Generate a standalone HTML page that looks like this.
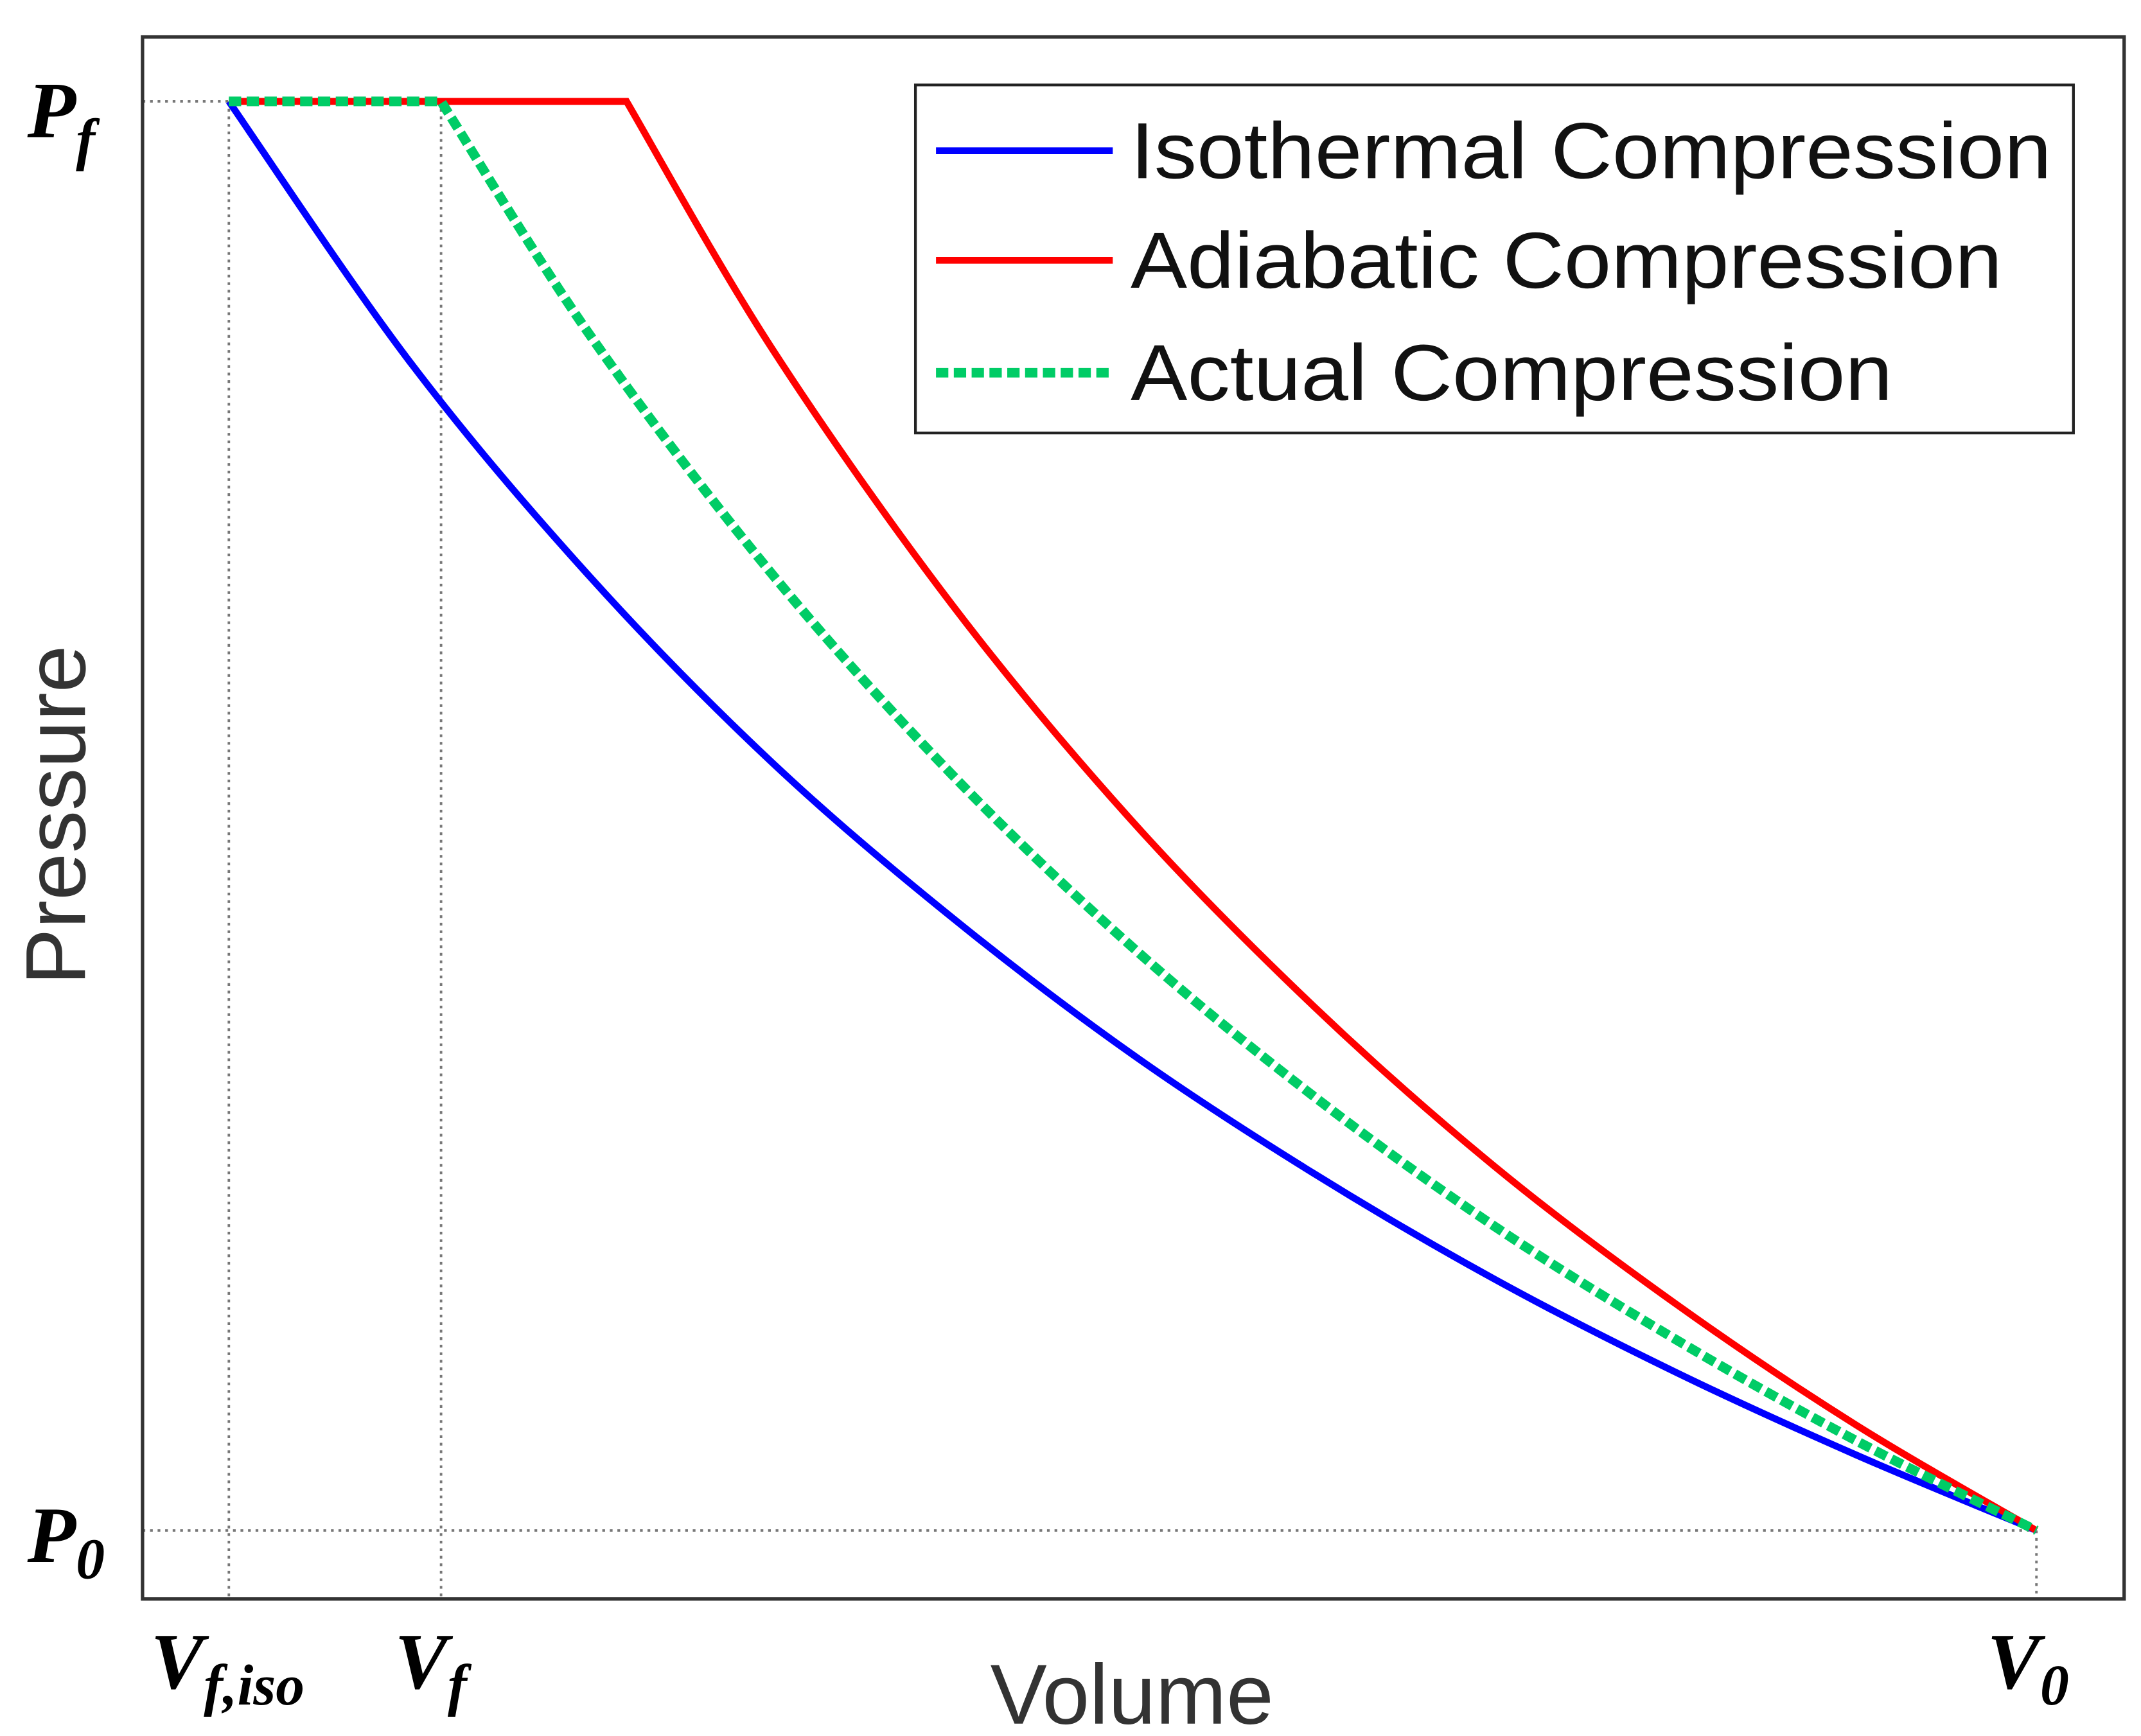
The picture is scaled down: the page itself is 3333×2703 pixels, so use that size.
<!DOCTYPE html>
<html><head><meta charset="utf-8"><style>
html,body{margin:0;padding:0;background:#fff;}
svg{display:block;}
</style></head><body>
<svg id="chart" width="3333" height="2703" viewBox="0 0 1562.3 1267" preserveAspectRatio="none" xmlns="http://www.w3.org/2000/svg">
<rect x="0" y="0" width="1562.3" height="1267" fill="#fff"/>
<g id="guides"></g>
<g id="series"></g>
<rect x="104" y="27" width="1446" height="1140" fill="none" stroke="#333" stroke-width="2.5"/>
<g>
<rect x="668" y="62" width="845" height="254" fill="#fff" stroke="#222" stroke-width="2"/>
<line x1="683" y1="110" x2="812" y2="110" stroke="#0000ff" stroke-width="5"/>
<line x1="683" y1="190" x2="812" y2="190" stroke="#ff0000" stroke-width="5"/>
<line x1="683" y1="272" x2="812" y2="272" stroke="#00cc66" stroke-width="7" stroke-dasharray="9,4"/>
<text x="825" y="130" font-family="Liberation Sans, sans-serif" font-size="58" textLength="672" lengthAdjust="spacingAndGlyphs" fill="#111">Isothermal Compression</text>
<text x="825" y="210" font-family="Liberation Sans, sans-serif" font-size="58" textLength="636" lengthAdjust="spacingAndGlyphs" fill="#111">Adiabatic Compression</text>
<text x="825" y="292" font-family="Liberation Sans, sans-serif" font-size="58" textLength="556" lengthAdjust="spacingAndGlyphs" fill="#111">Actual Compression</text>
</g>
<text transform="translate(62,595) rotate(-90)" text-anchor="middle" font-family="Liberation Sans, sans-serif" font-size="62" fill="#333">Pressure</text>
<text x="826" y="1258" text-anchor="middle" font-family="Liberation Sans, sans-serif" font-size="62" fill="#333">Volume</text>
<g font-family="Liberation Serif, serif" font-weight="bold" font-style="italic" fill="#000">
<text x="20" y="100" font-size="58">P<tspan font-size="42" dy="16">f</tspan></text>
<text x="20" y="1140" font-size="58">P<tspan font-size="42" dy="12">0</tspan></text>
<text x="110" y="1232" font-size="58">V<tspan font-size="42" dy="12">f,iso</tspan></text>
<text x="288" y="1232" font-size="58">V<tspan font-size="42" dy="12">f</tspan></text>
<text x="1450" y="1232" font-size="58">V<tspan font-size="42" dy="12">0</tspan></text>
</g>
</svg>
<script>
// Volumes normalized to V0 = 1, pressures normalized to P0 = 1
const isoVolume = [0.5, 0.55, 0.6, 0.65, 0.7, 0.75, 0.8, 0.85, 0.9, 0.95, 1.0];
const isoPressure = [2.0, 1.818, 1.667, 1.538, 1.429, 1.333, 1.25, 1.176, 1.111, 1.053, 1.0];
const adiVolume = [0.5, 0.61, 0.65, 0.7, 0.75, 0.8, 0.85, 0.9, 0.95, 1.0];
const adiPressure = [2.0, 2.0, 1.828, 1.648, 1.496, 1.367, 1.255, 1.159, 1.074, 1.0];
const actVolume = [0.5, 0.5587, 0.6, 0.65, 0.7, 0.75, 0.8, 0.85, 0.9, 0.95, 1.0];
const actPressure = [2.0, 2.0, 1.836, 1.670, 1.529, 1.408, 1.304, 1.213, 1.134, 1.063, 1.0];
const xDomain = [0.5, 1.0];
const yDomain = [1.0, 2.0];

const NS = 'http://www.w3.org/2000/svg';
function xs(v){ return 167 + (v - xDomain[0]) / (xDomain[1] - xDomain[0]) * (1486 - 167); }
function ys(p){ return 1117 - (p - yDomain[0]) / (yDomain[1] - yDomain[0]) * (1117 - 74); }

function pathFor(V, P){
  const pts = V.map((v,i)=>[xs(v), ys(P[i])]);
  let d = 'M' + pts[0][0] + ',' + pts[0][1];
  let start = 0;
  if (P[0] === P[1]) { d += ' L' + pts[1][0] + ',' + pts[1][1]; start = 1; }
  for (let i = start; i < pts.length - 1; i++) {
    const p0 = pts[Math.max(i-1, start)], p1 = pts[i], p2 = pts[i+1], p3 = pts[Math.min(i+2, pts.length-1)];
    const c1 = [p1[0] + (p2[0]-p0[0])/6, p1[1] + (p2[1]-p0[1])/6];
    const c2 = [p2[0] - (p3[0]-p1[0])/6, p2[1] - (p3[1]-p1[1])/6];
    d += ' C' + c1[0] + ',' + c1[1] + ' ' + c2[0] + ',' + c2[1] + ' ' + p2[0] + ',' + p2[1];
  }
  return d;
}

const guides = document.getElementById('guides');
function guide(x1,y1,x2,y2,name){
  const l = document.createElementNS(NS,'line');
  l.setAttribute('x1',x1); l.setAttribute('y1',y1); l.setAttribute('x2',x2); l.setAttribute('y2',y2);
  l.setAttribute('stroke','#777'); l.setAttribute('stroke-width','1.8'); l.setAttribute('stroke-dasharray','2,3.5');
  
  
  guides.appendChild(l);
}
guide(104, ys(yDomain[1]), xs(isoVolume[0]), ys(yDomain[1]), 'pf-guide');
guide(104, ys(yDomain[0]), xs(1.0), ys(yDomain[0]), 'p0-guide');
guide(xs(isoVolume[0]), ys(yDomain[1]), xs(isoVolume[0]), 1167, 'vfiso-guide');
guide(xs(actVolume[1]), ys(yDomain[1]), xs(actVolume[1]), 1167, 'vf-guide');
guide(xs(1.0), ys(yDomain[0]), xs(1.0), 1167, 'v0-guide');

const series = document.getElementById('series');
function line(V,P,color,w,dash,name){
  const p = document.createElementNS(NS,'path');
  p.setAttribute('d', pathFor(V,P));
  p.setAttribute('fill','none'); p.setAttribute('stroke',color); p.setAttribute('stroke-width',w);
  if (dash) p.setAttribute('stroke-dasharray', dash);
  
  
  series.appendChild(p);
}
line(isoVolume, isoPressure, '#0000ff', 5, null, 'isothermal-curve');
line(adiVolume, adiPressure, '#ff0000', 5, null, 'adiabatic-curve');
line(actVolume, actPressure, '#00cc66', 7, '9,4', 'actual-curve');
</script>
</body></html>
